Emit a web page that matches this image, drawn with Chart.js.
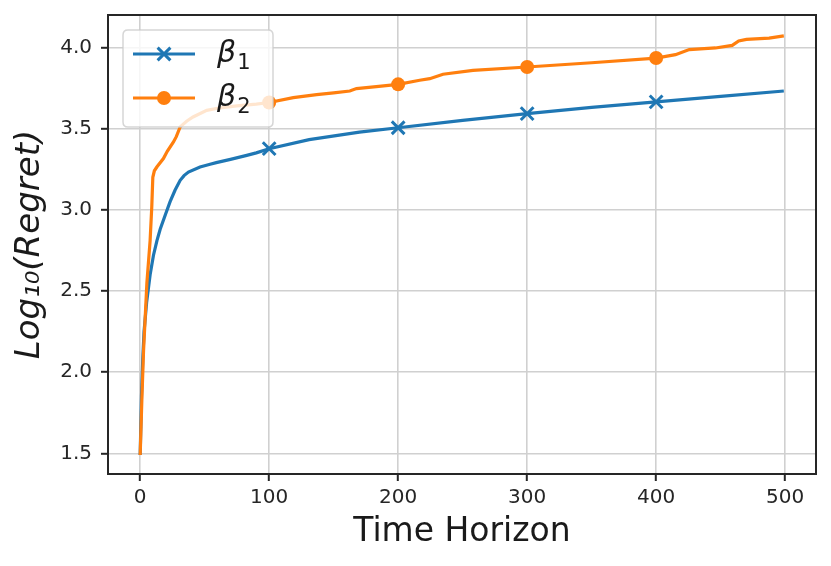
<!DOCTYPE html>
<html><head><meta charset="utf-8">
<script src="https://cdn.jsdelivr.net/npm/chart.js@4.4.1/dist/chart.umd.min.js"></script>
<style>html,body{margin:0;padding:0;background:#fff}</style>
</head><body>
<canvas id="c" width="831" height="566" style="display:block;width:831px;height:566px"></canvas>
<script>
// ---- data ----
const beta1X = [0, 1, 2, 3, 5, 7.7, 10.3, 13, 15.5, 20, 23.2, 27, 31, 34, 37.4, 46.4, 54.2, 59, 70, 82.6, 90, 100, 131, 170, 200, 250, 300, 350, 400, 450, 499];
const beta1Y = [1.49, 1.85, 2.08, 2.25, 2.43, 2.6, 2.72, 2.81, 2.88, 2.98, 3.05, 3.12, 3.181, 3.21, 3.232, 3.263, 3.28, 3.29, 3.31, 3.335, 3.35, 3.376, 3.432, 3.478, 3.505, 3.55, 3.592, 3.63, 3.664, 3.698, 3.731];
const beta2X = [0, 1.3, 2.6, 5.2, 7.7, 9, 9.8, 11, 12.9, 18, 21, 25.8, 28, 31, 36, 41, 51.6, 60, 75, 90, 100, 118.7, 136.8, 150, 162.5, 167.7, 185, 200, 216.7, 224.5, 234.8, 258, 300, 350, 400, 415, 425.7, 446, 459, 464, 470, 487.6, 499];
const beta2Y = [1.49, 1.83, 2.13, 2.55, 2.81, 3.02, 3.2, 3.24, 3.263, 3.315, 3.36, 3.417, 3.45, 3.51, 3.545, 3.571, 3.612, 3.625, 3.64, 3.65, 3.66, 3.69, 3.709, 3.72, 3.731, 3.746, 3.76, 3.772, 3.797, 3.807, 3.834, 3.858, 3.879, 3.905, 3.934, 3.955, 3.986, 3.996, 4.012, 4.039, 4.049, 4.057, 4.07];
const markerX = [100, 200, 300, 400];
const xTicks = [0, 100, 200, 300, 400, 500];
const yTicks = [1.5, 2.0, 2.5, 3.0, 3.5, 4.0];
const legendBase = ['β', 'β'];
const legendSub = ['1', '2'];
const xTitle = 'Time Horizon';
const yTitle = 'Log₁₀(Regret)';

const BLUE = '#1f77b4', ORANGE = '#ff7f0e';
const FONT = "'DejaVu Sans', sans-serif";

const toPts = (xs, ys) => xs.map((x, i) => ({x: x, y: ys[i]}));
const markR = (r) => (ctx) => (ctx.raw && markerX.includes(ctx.raw.x)) ? r : 0;
const noPad = (s) => { s.paddingTop = 0; s.paddingBottom = 0; s.paddingLeft = 0; s.paddingRight = 0; };

const framePlugin = {
  id: 'frame',
  afterDatasetsDraw(chart) {
    const ctx = chart.ctx, a = chart.chartArea;
    // legend
    const L = a.left + 15, T = a.top + 15, W = 150, H = 97, R = 5;
    ctx.save();
    ctx.beginPath();
    ctx.moveTo(L + R, T); ctx.lineTo(L + W - R, T); ctx.quadraticCurveTo(L + W, T, L + W, T + R);
    ctx.lineTo(L + W, T + H - R); ctx.quadraticCurveTo(L + W, T + H, L + W - R, T + H);
    ctx.lineTo(L + R, T + H); ctx.quadraticCurveTo(L, T + H, L, T + H - R);
    ctx.lineTo(L, T + R); ctx.quadraticCurveTo(L, T, L + R, T);
    ctx.closePath();
    ctx.fillStyle = 'rgba(255,255,255,0.8)';
    ctx.fill();
    ctx.strokeStyle = 'rgba(204,204,204,0.8)';
    ctx.lineWidth = 1.5;
    ctx.stroke();
    const rows = [T + 24, T + 68];
    const colors = [BLUE, ORANGE];
    rows.forEach((y, i) => {
      ctx.strokeStyle = colors[i];
      ctx.lineWidth = 3;
      ctx.beginPath(); ctx.moveTo(L + 10, y); ctx.lineTo(L + 72, y); ctx.stroke();
      const mx = L + 41;
      if (i === 0) {
        const d = 6.4;
        ctx.beginPath();
        ctx.moveTo(mx - d, y - d); ctx.lineTo(mx + d, y + d);
        ctx.moveTo(mx - d, y + d); ctx.lineTo(mx + d, y - d);
        ctx.stroke();
      } else {
        ctx.fillStyle = colors[i];
        ctx.beginPath(); ctx.arc(mx, y, 7, 0, Math.PI * 2); ctx.fill();
      }
      ctx.fillStyle = '#1a1a1a';
      ctx.textBaseline = 'alphabetic';
      ctx.textAlign = 'left';
      ctx.font = "italic 30px " + FONT;
      const tx = L + 94;
      ctx.fillText(legendBase[i], tx, y + 8);
      const w = ctx.measureText(legendBase[i]).width;
      ctx.font = "21px " + FONT;
      ctx.fillText(legendSub[i], tx + w + 1, y + 15);
    });
    ctx.restore();
  },
  afterDraw(chart) {
    const ctx = chart.ctx, a = chart.chartArea;
    ctx.save();
    ctx.strokeStyle = '#262626';
    ctx.lineWidth = 2;
    ctx.strokeRect(a.left, a.top, a.right - a.left, a.bottom - a.top);
    ctx.restore();
  }
};

new Chart(document.getElementById('c'), {
  type: 'line',
  data: {
    datasets: [
      {
        label: 'β1', data: toPts(beta1X, beta1Y), borderColor: BLUE, backgroundColor: BLUE,
        borderWidth: 3.2, tension: 0, order: 1,
        pointStyle: 'crossRot', pointRadius: markR(9), pointHoverRadius: 0,
        pointBorderColor: BLUE, pointBorderWidth: 3
      },
      {
        label: 'β2', data: toPts(beta2X, beta2Y), borderColor: ORANGE, backgroundColor: ORANGE,
        borderWidth: 3.2, tension: 0, order: 0,
        pointStyle: 'circle', pointRadius: markR(7), pointHoverRadius: 0,
        pointBackgroundColor: ORANGE, pointBorderColor: ORANGE, pointBorderWidth: 0
      }
    ]
  },
  options: {
    responsive: false,
    animation: false,
    devicePixelRatio: 1,
    layout: {padding: {top: 15, right: 15, left: 0, bottom: 0}},
    plugins: {legend: {display: false}, tooltip: {enabled: false}},
    events: [],
    scales: {
      x: {
        type: 'linear', min: -24.95, max: 523.95,
        afterBuildTicks: (s) => { s.ticks = xTicks.map(v => ({value: v})); },
        afterFit: (s) => { s.height = 92; noPad(s); },
        grid: {color: '#d0d0d0', lineWidth: 1.6, tickLength: 7, tickColor: '#262626', tickWidth: 2, drawTicks: true},
        border: {display: false},
        ticks: {autoSkip: false, maxRotation: 0, padding: 5, color: '#262626', font: {family: FONT, size: 20},
                callback: (v) => String(v)},
        title: {display: true, text: xTitle, color: '#1a1a1a', font: {family: FONT, size: 33}, padding: {top: 0, bottom: 14}}
      },
      y: {
        type: 'linear', min: 1.373, max: 4.199,
        afterBuildTicks: (s) => { s.ticks = yTicks.map(v => ({value: v})); },
        afterFit: (s) => { s.width = 108; noPad(s); },
        grid: {color: '#d0d0d0', lineWidth: 1.6, tickLength: 7, tickColor: '#262626', tickWidth: 2, drawTicks: true},
        border: {display: false},
        ticks: {autoSkip: false, padding: 9, color: '#262626', font: {family: FONT, size: 20},
                callback: (v) => Number(v).toFixed(1)},
        title: {display: true, text: yTitle, color: '#1a1a1a', font: {family: FONT, size: 34, style: 'italic'}, padding: {top: 10, bottom: 0}}
      }
    }
  },
  plugins: [framePlugin]
});
</script>
</body></html>
